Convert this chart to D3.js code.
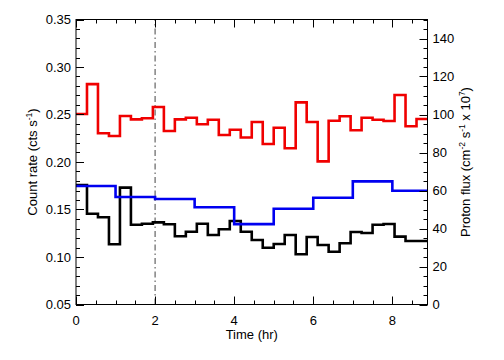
<!DOCTYPE html>
<html><head><meta charset="utf-8">
<script src="https://cdn.jsdelivr.net/npm/d3@7"></script>
<style>body{margin:0;background:#fff}svg{display:block}text{font-family:"Liberation Sans",Arial,Helvetica,sans-serif}</style>
</head><body><svg id="c" width="504" height="360"></svg>
<script>
// bin width 1000 s = 0.2778 hr; 32 bins
const binHours = 1000/3600;
const redRate = [0.2505,0.282,0.2302,0.2274,0.2484,0.2449,0.246,0.2579,0.2326,0.2449,0.2466,0.2397,0.2445,0.2284,0.234,0.2258,
  0.2421,0.2189,0.2361,0.2144,0.2628,0.2421,0.2007,0.2435,0.2481,0.2334,0.2466,0.2445,0.2432,0.2705,0.2376,0.2453];
const blackRate = [0.1758,0.1456,0.1418,0.1134,0.173,0.134,0.135,0.1365,0.1344,0.1218,0.1266,0.135,0.1232,0.1292,0.1379,0.1266,
  0.1179,0.1098,0.1137,0.1232,0.1029,0.1211,0.1126,0.1056,0.1144,0.1263,0.1253,0.134,0.1347,0.1214,0.1168,0.1168];
const protonHours = [0,1,2,3,4,5,6,7,8];
const protonFlux = [62.4,56.6,55.5,51.2,42.3,50.4,56.2,64.8,59.9];
const leftTicks = [0.05,0.10,0.15,0.20,0.25,0.30,0.35];
const rightTicks = [0,20,40,60,80,100,120,140];
const xTicks = [0,2,4,6,8];
const markerHour = 2;
const tMax = 32*binHours;

const svg = d3.select("#c");
const L=76,R=427.5,T=19.5,B=304.5;
const x = d3.scaleLinear().domain([0,tMax]).range([L,R]);
const yL = d3.scaleLinear().domain([0.05,0.35]).range([B,T]);
const yR = d3.scaleLinear().domain([0,150]).range([B,T]);

function stepPts(times, vals){
  const p = times.map((t,i)=>[t,vals[i]]);
  p.push([tMax, vals[vals.length-1]]);
  return p;
}
const binTimes = redRate.map((_,i)=>i*binHours);

// dashed marker
svg.append("line").attr("x1",x(markerHour)).attr("x2",x(markerHour)).attr("y1",B).attr("y2",T)
  .attr("stroke","#444").attr("stroke-width",1).attr("stroke-dasharray","6,3,1.5,3");

const lineL = d3.line().x(d=>x(d[0])).y(d=>yL(d[1])).curve(d3.curveStepAfter);
const lineR = d3.line().x(d=>x(d[0])).y(d=>yR(d[1])).curve(d3.curveStepAfter);
svg.append("path").attr("d",lineL(stepPts(binTimes,redRate))).attr("fill","none").attr("stroke","#f00000").attr("stroke-width",2.6);
svg.append("path").attr("d",lineL(stepPts(binTimes,blackRate))).attr("fill","none").attr("stroke","#000").attr("stroke-width",2.6);
svg.append("path").attr("d",lineR(stepPts(protonHours,protonFlux))).attr("fill","none").attr("stroke","#0000f0").attr("stroke-width",2.6);

// frame
const ax = svg.append("g").attr("stroke","#000").attr("stroke-width",1).attr("fill","none");
ax.append("rect").attr("x",L).attr("y",T).attr("width",R-L).attr("height",B-T);
d3.range(0.05,0.3501,0.01).forEach((v,i)=>{const len=(i%5===0)?8:4;const yy=Math.round(yL(v))+0.5;
  ax.append("line").attr("x1",L).attr("x2",L+len).attr("y1",yy).attr("y2",yy);});
d3.range(0,150.1,5).forEach((v,i)=>{const len=(i%4===0)?8:4;const yy=Math.round(yR(v))+0.5;
  ax.append("line").attr("x1",R).attr("x2",R-len).attr("y1",yy).attr("y2",yy);});
d3.range(0,tMax,0.5).forEach((v,i)=>{const len=(i%4===0)?8:4;const xx=Math.round(x(v))+0.5;
  ax.append("line").attr("x1",xx).attr("x2",xx).attr("y1",B).attr("y2",B-len);
  ax.append("line").attr("x1",xx).attr("x2",xx).attr("y1",T).attr("y2",T+len);});

const fs=13;
svg.selectAll(".lt").data(leftTicks).enter().append("text").attr("x",L-5).attr("y",d=>yL(d)+4.5)
  .attr("text-anchor","end").attr("font-size",fs).text(d=>d.toFixed(2));
svg.selectAll(".rt").data(rightTicks).enter().append("text").attr("x",R+5).attr("y",d=>yR(d)+4.5)
  .attr("text-anchor","start").attr("font-size",fs).text(d=>d);
svg.selectAll(".xt").data(xTicks).enter().append("text").attr("x",d=>x(d)).attr("y",325)
  .attr("text-anchor","middle").attr("font-size",fs).text(d=>d);
svg.append("text").attr("x",(L+R)/2).attr("y",339).attr("text-anchor","middle").attr("font-size",fs).text("Time (hr)");

function title(xp, parts){
  const t = svg.append("text").attr("transform",`translate(${xp},${(T+B)/2}) rotate(-90)`)
    .attr("text-anchor","middle").attr("font-size",fs);
  let prevSup=false;
  parts.forEach(p=>{
    const ts=t.append("tspan").text(p.t);
    if(p.sup){ts.attr("font-size",8.5).attr("dy",-5.5);prevSup=true;}
    else if(prevSup){ts.attr("dy",5.5);prevSup=false;}
  });
}
title(37,[{t:"Count rate (cts  s"},{t:"-1",sup:true},{t:")"}]);
title(470,[{t:"Proton flux (cm"},{t:"-2",sup:true},{t:" s"},{t:"-1",sup:true},{t:" x 10"},{t:"7",sup:true},{t:")"}]);
</script></body></html>
